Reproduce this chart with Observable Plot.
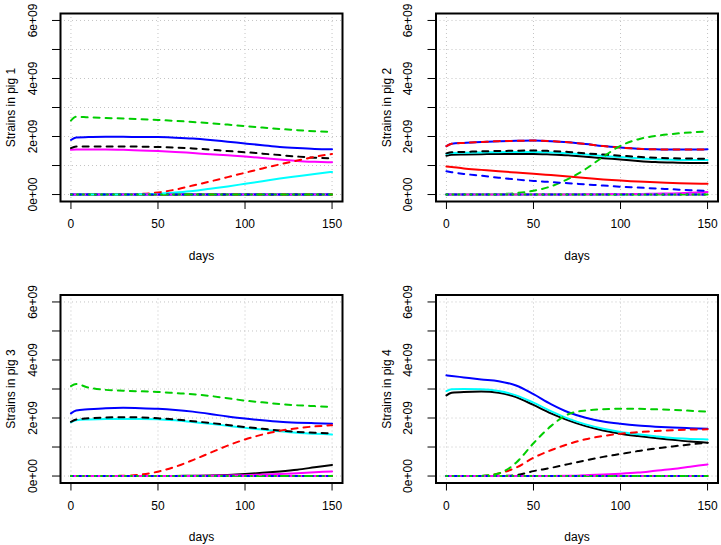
<!DOCTYPE html>
<html><head><meta charset="utf-8">
<script src="https://cdn.jsdelivr.net/npm/d3@7"></script>
<script src="https://cdn.jsdelivr.net/npm/@observablehq/plot@0.6"></script>
<style>
body{margin:0;background:#fff;}
#chart{position:relative;width:721px;height:545px;background:#fff;}
#chart svg{position:absolute;}
</style></head><body><div id="chart"></div>
<script>
// ---------- data (strain counts, in units of 1e9) ----------
const days = [0,3,10,20,30,40,50,60,70,80,90,100,110,120,130,140,150];
const strainNames = ["S1","S2","S3","S4","S5","S6","S7","S8","S9","S10","S11","S12","S13","S14"];
const Z = days.map(() => 0);
const pig1 = [
  Z, Z, Z,
  [1.88,1.97,1.98,1.99,1.99,1.98,1.98,1.96,1.93,1.88,1.82,1.76,1.70,1.64,1.60,1.57,1.56],
  [0,0,0,0,0,0.01,0.03,0.07,0.12,0.20,0.28,0.37,0.46,0.55,0.63,0.71,0.78],
  [1.54,1.55,1.55,1.55,1.54,1.52,1.50,1.47,1.43,1.39,1.35,1.31,1.26,1.21,1.16,1.13,1.11],
  [1.60,1.66,1.66,1.66,1.66,1.65,1.64,1.62,1.59,1.55,1.50,1.46,1.41,1.36,1.31,1.27,1.25],
  [0,0,0,0,0.005,0.02,0.07,0.17,0.31,0.45,0.60,0.75,0.90,1.04,1.17,1.30,1.40],
  [2.55,2.68,2.66,2.64,2.62,2.60,2.57,2.54,2.50,2.46,2.41,2.36,2.31,2.26,2.22,2.18,2.16],
  Z, Z, Z, Z, Z
];
const pig2 = [
  [1.34,1.37,1.38,1.39,1.40,1.40,1.40,1.38,1.35,1.30,1.25,1.21,1.16,1.12,1.10,1.09,1.09],
  [0.97,0.95,0.90,0.85,0.80,0.76,0.72,0.67,0.62,0.57,0.52,0.48,0.45,0.42,0.40,0.38,0.37],
  Z,
  [1.67,1.75,1.78,1.81,1.84,1.85,1.86,1.84,1.80,1.74,1.67,1.62,1.58,1.56,1.55,1.55,1.56],
  [1.40,1.43,1.44,1.45,1.46,1.47,1.47,1.45,1.42,1.38,1.33,1.29,1.25,1.22,1.20,1.19,1.19],
  [0,0,0,0,0,0,0,0,0.005,0.01,0.01,0.02,0.02,0.03,0.04,0.06,0.09],
  [1.42,1.46,1.47,1.49,1.50,1.51,1.52,1.50,1.47,1.42,1.38,1.34,1.30,1.27,1.25,1.24,1.23],
  [1.67,1.75,1.78,1.81,1.84,1.85,1.86,1.84,1.80,1.74,1.67,1.62,1.58,1.56,1.55,1.55,1.56],
  [0,0,0,0,0.01,0.05,0.13,0.28,0.54,0.88,1.30,1.68,1.90,2.02,2.09,2.14,2.17],
  [0.80,0.77,0.71,0.65,0.58,0.52,0.47,0.43,0.39,0.35,0.31,0.27,0.24,0.21,0.18,0.15,0.13],
  Z, Z, Z, Z
];
const pig3 = [
  [0,0,0,0,0,0,0,0.005,0.01,0.02,0.04,0.07,0.11,0.16,0.22,0.30,0.38],
  Z, Z,
  [2.16,2.26,2.30,2.34,2.35,2.34,2.32,2.28,2.22,2.14,2.05,1.98,1.92,1.87,1.84,1.82,1.80],
  [1.85,1.92,1.95,1.97,1.97,1.97,1.96,1.92,1.86,1.80,1.73,1.66,1.60,1.54,1.49,1.46,1.43],
  [0,0,0,0,0,0,0,0,0.005,0.01,0.02,0.03,0.05,0.07,0.10,0.13,0.16],
  [1.87,1.95,1.99,2.02,2.03,2.02,1.99,1.95,1.89,1.83,1.76,1.69,1.63,1.57,1.52,1.49,1.47],
  [0,0,0,0,0.01,0.05,0.15,0.32,0.55,0.80,1.05,1.26,1.43,1.56,1.65,1.71,1.75],
  [3.10,3.17,3.05,2.97,2.94,2.92,2.90,2.86,2.82,2.76,2.68,2.60,2.54,2.48,2.44,2.41,2.38],
  Z, Z, Z, Z, Z
];
const pig4 = [
  [2.78,2.87,2.90,2.91,2.87,2.72,2.45,2.16,1.92,1.72,1.57,1.46,1.38,1.31,1.25,1.19,1.15],
  Z, Z,
  [3.47,3.45,3.40,3.33,3.27,3.12,2.82,2.48,2.20,2.01,1.88,1.80,1.74,1.70,1.67,1.65,1.63],
  [2.93,2.99,3.00,2.99,2.93,2.78,2.53,2.24,1.98,1.78,1.63,1.52,1.44,1.37,1.31,1.28,1.26],
  [0,0,0,0,0,0,0,0.005,0.01,0.03,0.05,0.08,0.12,0.18,0.24,0.32,0.40],
  [0,0,0,0,0,0.03,0.17,0.28,0.41,0.54,0.66,0.76,0.86,0.95,1.02,1.09,1.15],
  [0,0,0,0,0.09,0.29,0.63,0.89,1.10,1.27,1.38,1.46,1.51,1.55,1.58,1.60,1.61],
  [0,0,0,0.01,0.09,0.46,1.13,1.72,2.13,2.26,2.30,2.32,2.32,2.30,2.28,2.25,2.22],
  Z, Z, Z, Z, Z
];
const pigTitles = ["Strains in pig 1","Strains in pig 2","Strains in pig 3","Strains in pig 4"];
const xTicks = [0,50,100,150];
const yTicks = [0,1,2,3,4,5,6];
const yLabelValues = [0,2,4,6];
const yTickLabels = ["0e+00","2e+09","4e+09","6e+09"];

// ---------- styles ----------
const strainColor = ["black","#FF0000","#00CD00","#0000FF","#00FFFF","#FF00FF",
                     "black","#FF0000","#00CD00","#0000FF","#00FFFF","#FF00FF",
                     "#0000FF","#00CD00"];
const strainDash = [null,null,null,null,null,null,"6,6","6,6","6,6","6,6","6,6","6,6","2,6","1,5"];
const SCALE = 1e9;
const labelMap = new Map(yLabelValues.map((v,i) => [v*SCALE, yTickLabels[i]]));

const panels = [
  {data: pig1, left: 0,   top: 0,   width: 360, height: 272, mL: 60,   mR: 18,  mT: 13,   mB: 71},
  {data: pig2, left: 360, top: 0,   width: 361, height: 272, mL: 75.5, mR: 3.5, mT: 13,   mB: 71},
  {data: pig3, left: 0,   top: 272, width: 360, height: 273, mL: 60,   mR: 18,  mT: 22.5, mB: 62.5},
  {data: pig4, left: 360, top: 272, width: 361, height: 273, mL: 75.5, mR: 3.5, mT: 22.5, mB: 62.5}
];

const container = document.getElementById("chart");
panels.forEach((p, k) => {
  const marks = [
    Plot.gridX(xTicks, {stroke: "#c4c4c4", strokeOpacity: 1, strokeDasharray: "1,3"}),
    Plot.gridY(yTicks.map(v => v*SCALE), {stroke: "#c4c4c4", strokeOpacity: 1, strokeDasharray: "1,3"})
  ];
  strainNames.forEach((name, i) => {
    const rows = days.map((d, j) => ({day: d, count: p.data[i][j]*SCALE, strain: name}));
    const opts = {x: "day", y: "count", stroke: strainColor[i], strokeWidth: 2, curve: "monotone-x", strokeLinecap: "round"};
    if (strainDash[i]) opts.strokeDasharray = strainDash[i];
    marks.push(Plot.line(rows, opts));
  });
  marks.push(Plot.frame({stroke: "black", strokeWidth: 2}));
  marks.push(Plot.axisX(xTicks, {tickSize: 8, tickPadding: 10, label: "days", labelAnchor: "center", labelOffset: 58, labelArrow: "none"}));
  marks.push(Plot.axisY(yTicks.map(v => v*SCALE), {tickSize: 8, tickPadding: 16, tickRotate: -90,
    tickFormat: d => labelMap.get(d) ?? "", label: pigTitles[k], labelAnchor: "center", labelOffset: 54, labelArrow: "none"}));
  const svg = Plot.plot({
    width: p.width, height: p.height,
    marginLeft: p.mL, marginRight: p.mR, marginTop: p.mT, marginBottom: p.mB,
    x: {domain: [-6, 156]},
    y: {domain: [-0.24*SCALE, 6.24*SCALE]},
    style: {fontSize: "12px", fontFamily: "'Liberation Sans', Arial, Helvetica, sans-serif", background: "white", color: "black", overflow: "visible"},
    marks
  });
  svg.style.left = p.left + "px";
  svg.style.top = p.top + "px";
  container.appendChild(svg);
});
</script>
</body></html>
